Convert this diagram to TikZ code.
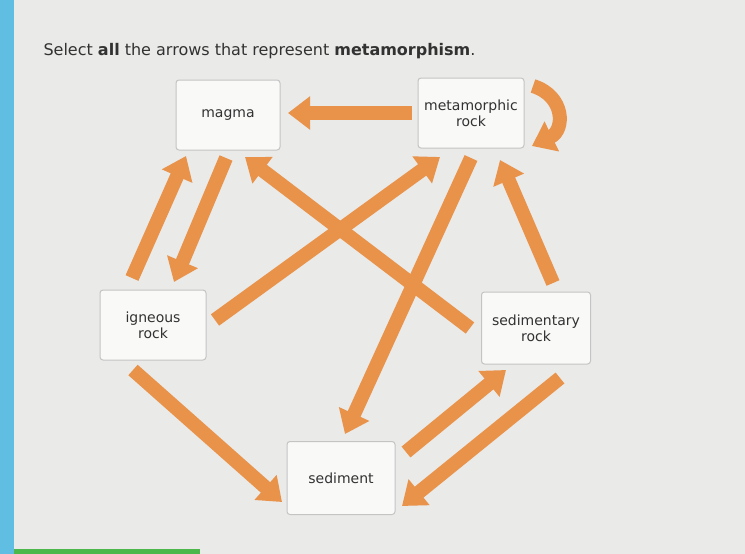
\documentclass[tikz,border=0pt]{standalone}
\usepackage{fontspec}
\setmainfont{DejaVu Sans}
\usetikzlibrary{arrows.meta}
\definecolor{bgcol}{RGB}{234, 234, 232}
\definecolor{stripcol}{RGB}{96, 190, 226}
\definecolor{boxline}{RGB}{196, 196, 196}
\definecolor{orangecol}{RGB}{232, 146, 74}
\definecolor{textcol}{RGB}{50, 50, 50}
\tikzset{
  rockbox/.style={draw=boxline, fill=white!70!bgcol, rounded corners=3pt, line width=1pt,
    align=center, font=\fontsize{14pt}{16pt}\selectfont, text=textcol},
  cyclearrow/.style={draw=orangecol, line width=14pt,
    -{Triangle[width=32pt,length=22pt]}}
}
\begin{document}
\begin{tikzpicture}[x=1pt,y=-1pt]
\useasboundingbox (0,0) rectangle (745,554);
\fill[bgcol] (0,0) rectangle (745,554);
\fill[stripcol] (0,0) rectangle (14,554);
\fill[green!60!black!70] (14,549) rectangle (200,554);
\node[anchor=base west, font=\fontsize{16pt}{18pt}\selectfont, text=textcol] (title) at (40,56)
  {Select \textbf{all} the arrows that represent \textbf{metamorphism}.};
% rock boxes
\node[rockbox, minimum width=104pt, minimum height=70pt] (magma) at (228,115) {magma};
\node[rockbox, minimum width=106pt, minimum height=70pt] (meta) at (471,113) {metamorphic\\rock};
\node[rockbox, minimum width=106pt, minimum height=70pt] (ign) at (153,325) {igneous\\rock};
\node[rockbox, minimum width=109pt, minimum height=72pt] (sedr) at (536,328) {sedimentary\\rock};
\node[rockbox, minimum width=108pt, minimum height=73pt] (sed) at (341,478) {sediment};
% arrow ends
\coordinate (a1s) at (412,113); \coordinate (a1e) at (288,113);
\coordinate (a3s) at (132,278); \coordinate (a3e) at (186,156);
\coordinate (a4s) at (226,158); \coordinate (a4e) at (174,282);
\coordinate (a5s) at (215,320); \coordinate (a5e) at (440,157);
\coordinate (a6s) at (470,328); \coordinate (a6e) at (245,157);
\coordinate (a7s) at (471,158); \coordinate (a7e) at (345,434);
\coordinate (a8s) at (553,283); \coordinate (a8e) at (500,160);
\coordinate (a9s) at (133,370); \coordinate (a9e) at (282,502);
\coordinate (a10s) at (406,452); \coordinate (a10e) at (506,370);
\coordinate (a11s) at (560,378); \coordinate (a11e) at (402,506);
\coordinate (a2s) at (533,86); \coordinate (a2e) at (532,146);
% arrows
\draw[cyclearrow] (a1s) -- (a1e);
\draw[cyclearrow] (a3s) -- (a3e);
\draw[cyclearrow] (a4s) -- (a4e);
\draw[cyclearrow] (a5s) -- (a5e);
\draw[cyclearrow] (a6s) -- (a6e);
\draw[cyclearrow] (a7s) -- (a7e);
\draw[cyclearrow] (a8s) -- (a8e);
\draw[cyclearrow] (a9s) -- (a9e);
\draw[cyclearrow] (a10s) -- (a10e);
\draw[cyclearrow] (a11s) -- (a11e);
\draw[cyclearrow] (a2s) .. controls (565,96) and (565,130) .. (a2e);
\end{tikzpicture}
\end{document}
